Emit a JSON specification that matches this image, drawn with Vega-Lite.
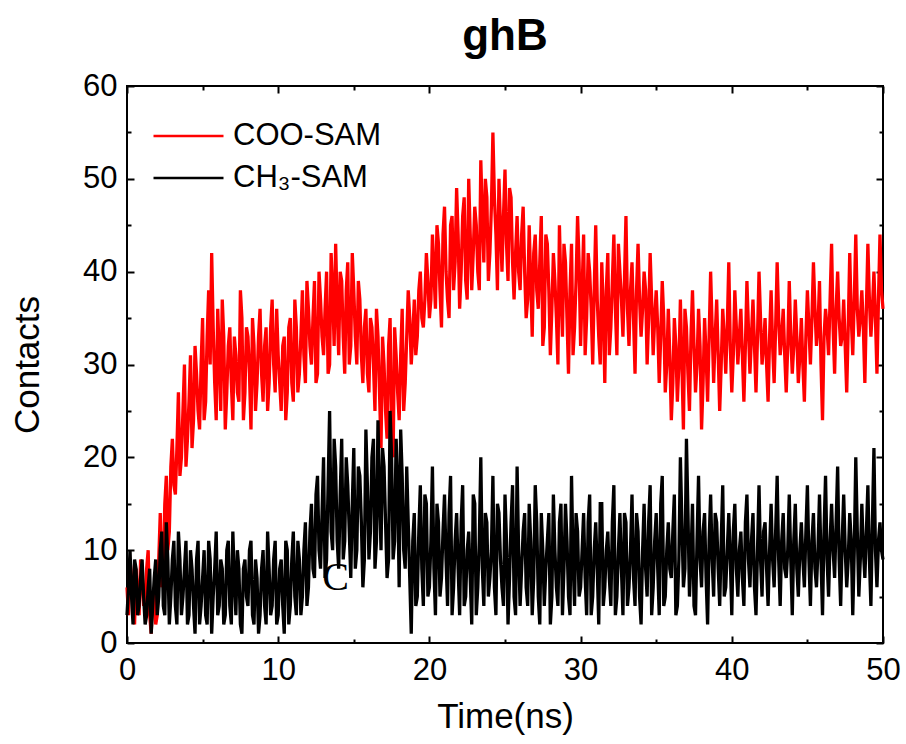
{
"$schema": "https://vega.github.io/schema/vega-lite/v6.json",
"width": 756, "height": 557,
"autosize": {"type": "none"},
"padding": {"left": 127, "top": 86, "right": 23, "bottom": 101},
"background": "white",
"title": {"text": "ghB", "fontSize": 44, "fontWeight": "bold", "font": "Liberation Sans", "color": "black", "offset": 11, "anchor": "middle"},
"config": {
  "view": {"stroke": "black", "strokeWidth": 2},
  "axis": {"domain": false, "grid": false, "labelFont": "Liberation Sans", "labelFontSize": 31, "labelColor": "black", "titleFont": "Liberation Sans", "titleFontSize": 35, "titleFontWeight": "normal", "titleColor": "black", "tickColor": "black", "tickWidth": 2, "labelFlush": false, "labelOverlap": false},
  "legend": {"labelFont": "Liberation Sans", "labelFontSize": 31, "labelColor": "black", "labelLimit": 0}
},
"resolve": {"axis": {"x": "independent", "y": "independent"}},
"datasets": {"d": [
{"t":0,"a":6,"b":3},{"t":0.2,"a":9,"b":10},{"t":0.4,"a":4,"b":2},{"t":0.6,"a":8,"b":8},{"t":0.8,"a":3,"b":4},
{"t":1,"a":7,"b":9},{"t":1.2,"a":5,"b":2},{"t":1.4,"a":10,"b":6},{"t":1.6,"a":1,"b":1},{"t":1.8,"a":6,"b":7},
{"t":2,"a":3,"b":3},{"t":2.2,"a":14,"b":10},{"t":2.4,"a":8,"b":4},{"t":2.6,"a":18,"b":13},{"t":2.8,"a":12,"b":2},
{"t":3,"a":22,"b":9},{"t":3.2,"a":16,"b":4},{"t":3.4,"a":27,"b":12},{"t":3.6,"a":20,"b":3},{"t":3.8,"a":30,"b":8},
{"t":4,"a":22,"b":2},{"t":4.2,"a":31,"b":10},{"t":4.4,"a":24,"b":4},{"t":4.6,"a":29,"b":9},{"t":4.8,"a":23,"b":2},
{"t":5,"a":35,"b":7},{"t":5.2,"a":26,"b":3},{"t":5.4,"a":38,"b":11},{"t":5.6,"a":42,"b":1},{"t":5.8,"a":28,"b":8},
{"t":6,"a":36,"b":3},{"t":6.2,"a":25,"b":9},{"t":6.4,"a":33,"b":2},{"t":6.6,"a":27,"b":10},{"t":6.8,"a":34,"b":4},
{"t":7,"a":24,"b":12},{"t":7.2,"a":31,"b":3},{"t":7.4,"a":26,"b":8},{"t":7.6,"a":35,"b":1},{"t":7.8,"a":27,"b":9},
{"t":8,"a":33,"b":4},{"t":8.2,"a":23,"b":11},{"t":8.4,"a":32,"b":2},{"t":8.6,"a":28,"b":7},{"t":8.8,"a":36,"b":3},
{"t":9,"a":26,"b":10},{"t":9.2,"a":34,"b":2},{"t":9.4,"a":28,"b":8},{"t":9.6,"a":37,"b":4},{"t":9.8,"a":27,"b":11},
{"t":10,"a":31,"b":3},{"t":10.2,"a":25,"b":9},{"t":10.4,"a":33,"b":1},{"t":10.6,"a":27,"b":10},{"t":10.8,"a":35,"b":4},
{"t":11,"a":26,"b":12},{"t":11.2,"a":34,"b":3},{"t":11.4,"a":29,"b":9},{"t":11.6,"a":38,"b":5},{"t":11.8,"a":28,"b":13},
{"t":12,"a":36,"b":6},{"t":12.2,"a":30,"b":15},{"t":12.4,"a":39,"b":7},{"t":12.6,"a":29,"b":18},{"t":12.8,"a":37,"b":8},
{"t":13,"a":31,"b":20},{"t":13.2,"a":40,"b":9},{"t":13.4,"a":30,"b":25},{"t":13.6,"a":38,"b":10},{"t":13.8,"a":43,"b":19},
{"t":14,"a":31,"b":8},{"t":14.2,"a":39,"b":22},{"t":14.4,"a":29,"b":11},{"t":14.6,"a":41,"b":17},{"t":14.8,"a":32,"b":7},
{"t":15,"a":38,"b":21},{"t":15.2,"a":30,"b":10},{"t":15.4,"a":37,"b":18},{"t":15.6,"a":28,"b":6},{"t":15.8,"a":36,"b":23},
{"t":16,"a":27,"b":9},{"t":16.2,"a":34,"b":20},{"t":16.4,"a":25,"b":8},{"t":16.6,"a":33,"b":24},{"t":16.8,"a":21,"b":10},
{"t":17,"a":30,"b":19},{"t":17.2,"a":22,"b":7},{"t":17.4,"a":35,"b":25},{"t":17.6,"a":20,"b":9},{"t":17.8,"a":31,"b":22},
{"t":18,"a":24,"b":6},{"t":18.2,"a":36,"b":18},{"t":18.4,"a":28,"b":8},{"t":18.6,"a":38,"b":13},{"t":18.8,"a":30,"b":1},
{"t":19,"a":37,"b":14},{"t":19.2,"a":33,"b":5},{"t":19.4,"a":40,"b":17},{"t":19.6,"a":34,"b":4},{"t":19.8,"a":42,"b":15},
{"t":20,"a":35,"b":6},{"t":20.2,"a":44,"b":19},{"t":20.4,"a":36,"b":3},{"t":20.6,"a":43,"b":13},{"t":20.8,"a":34,"b":7},
{"t":21,"a":47,"b":16},{"t":21.2,"a":37,"b":4},{"t":21.4,"a":45,"b":18},{"t":21.6,"a":38,"b":6},{"t":21.8,"a":49,"b":14},
{"t":22,"a":36,"b":3},{"t":22.2,"a":46,"b":17},{"t":22.4,"a":39,"b":5},{"t":22.6,"a":50,"b":12},{"t":22.8,"a":38,"b":2},
{"t":23,"a":47,"b":15},{"t":23.2,"a":40,"b":6},{"t":23.4,"a":52,"b":20},{"t":23.6,"a":41,"b":4},{"t":23.8,"a":48,"b":13},
{"t":24,"a":42,"b":7},{"t":24.2,"a":55,"b":18},{"t":24.4,"a":44,"b":3},{"t":24.6,"a":50,"b":14},{"t":24.8,"a":40,"b":6},
{"t":25,"a":51,"b":16},{"t":25.2,"a":39,"b":2},{"t":25.4,"a":48,"b":13},{"t":25.6,"a":37,"b":5},{"t":25.8,"a":46,"b":19},
{"t":26,"a":38,"b":4},{"t":26.2,"a":47,"b":12},{"t":26.4,"a":35,"b":6},{"t":26.6,"a":45,"b":15},{"t":26.8,"a":33,"b":3},
{"t":27,"a":44,"b":17},{"t":27.2,"a":36,"b":5},{"t":27.4,"a":46,"b":14},{"t":27.6,"a":34,"b":4},{"t":27.8,"a":43,"b":11},
{"t":28,"a":31,"b":2},{"t":28.2,"a":42,"b":16},{"t":28.4,"a":35,"b":6},{"t":28.6,"a":45,"b":13},{"t":28.8,"a":33,"b":3},
{"t":29,"a":41,"b":15},{"t":29.2,"a":29,"b":5},{"t":29.4,"a":43,"b":18},{"t":29.6,"a":34,"b":4},{"t":29.8,"a":46,"b":12},
{"t":30,"a":32,"b":6},{"t":30.2,"a":44,"b":14},{"t":30.4,"a":35,"b":3},{"t":30.6,"a":40,"b":16},{"t":30.8,"a":30,"b":5},
{"t":31,"a":45,"b":13},{"t":31.2,"a":33,"b":2},{"t":31.4,"a":41,"b":15},{"t":31.6,"a":28,"b":6},{"t":31.8,"a":42,"b":12},
{"t":32,"a":34,"b":4},{"t":32.2,"a":44,"b":17},{"t":32.4,"a":31,"b":5},{"t":32.6,"a":40,"b":14},{"t":32.8,"a":33,"b":3},
{"t":33,"a":46,"b":13},{"t":33.2,"a":32,"b":6},{"t":33.4,"a":41,"b":16},{"t":33.6,"a":29,"b":4},{"t":33.8,"a":43,"b":12},
{"t":34,"a":33,"b":2},{"t":34.2,"a":40,"b":15},{"t":34.4,"a":30,"b":5},{"t":34.6,"a":42,"b":17},{"t":34.8,"a":31,"b":6},
{"t":35,"a":38,"b":14},{"t":35.2,"a":28,"b":3},{"t":35.4,"a":39,"b":18},{"t":35.6,"a":27,"b":5},{"t":35.8,"a":36,"b":13},
{"t":36,"a":24,"b":7},{"t":36.2,"a":35,"b":16},{"t":36.4,"a":26,"b":4},{"t":36.6,"a":37,"b":20},{"t":36.8,"a":23,"b":6},
{"t":37,"a":34,"b":22},{"t":37.2,"a":25,"b":5},{"t":37.4,"a":38,"b":15},{"t":37.6,"a":27,"b":3},{"t":37.8,"a":36,"b":18},
{"t":38,"a":23,"b":6},{"t":38.2,"a":35,"b":14},{"t":38.4,"a":26,"b":2},{"t":38.6,"a":40,"b":16},{"t":38.8,"a":28,"b":5},
{"t":39,"a":37,"b":13},{"t":39.2,"a":25,"b":4},{"t":39.4,"a":36,"b":17},{"t":39.6,"a":29,"b":6},{"t":39.8,"a":41,"b":14},
{"t":40,"a":27,"b":3},{"t":40.2,"a":38,"b":15},{"t":40.4,"a":30,"b":5},{"t":40.6,"a":36,"b":12},{"t":40.8,"a":26,"b":4},
{"t":41,"a":39,"b":16},{"t":41.2,"a":29,"b":6},{"t":41.4,"a":37,"b":14},{"t":41.6,"a":27,"b":3},{"t":41.8,"a":40,"b":17},
{"t":42,"a":30,"b":5},{"t":42.2,"a":35,"b":13},{"t":42.4,"a":26,"b":4},{"t":42.6,"a":38,"b":15},{"t":42.8,"a":28,"b":6},
{"t":43,"a":41,"b":18},{"t":43.2,"a":31,"b":4},{"t":43.4,"a":36,"b":14},{"t":43.6,"a":27,"b":7},{"t":43.8,"a":39,"b":16},
{"t":44,"a":29,"b":3},{"t":44.2,"a":37,"b":15},{"t":44.4,"a":28,"b":5},{"t":44.6,"a":35,"b":13},{"t":44.8,"a":26,"b":6},
{"t":45,"a":38,"b":17},{"t":45.2,"a":30,"b":4},{"t":45.4,"a":41,"b":14},{"t":45.6,"a":32,"b":6},{"t":45.8,"a":39,"b":16},
{"t":46,"a":24,"b":3},{"t":46.2,"a":36,"b":18},{"t":46.4,"a":31,"b":5},{"t":46.6,"a":43,"b":15},{"t":46.8,"a":29,"b":7},
{"t":47,"a":40,"b":19},{"t":47.2,"a":32,"b":4},{"t":47.4,"a":37,"b":16},{"t":47.6,"a":27,"b":6},{"t":47.8,"a":42,"b":14},
{"t":48,"a":31,"b":3},{"t":48.2,"a":44,"b":20},{"t":48.4,"a":33,"b":5},{"t":48.6,"a":38,"b":15},{"t":48.8,"a":28,"b":7},
{"t":49,"a":43,"b":17},{"t":49.2,"a":33,"b":4},{"t":49.4,"a":40,"b":21},{"t":49.6,"a":29,"b":6},{"t":49.8,"a":44,"b":13},
{"t":50,"a":36,"b":9},
{"t":0.1,"a":3,"b":6},{"t":0.3,"a":7,"b":5},{"t":0.5,"a":2,"b":9},{"t":0.7,"a":5,"b":3},{"t":0.9,"a":9,"b":7},
{"t":1.1,"a":4,"b":5},{"t":1.3,"a":8,"b":3},{"t":1.5,"a":3,"b":8},{"t":1.7,"a":5,"b":4},{"t":1.9,"a":2,"b":9},
{"t":2.1,"a":9,"b":5},{"t":2.3,"a":6,"b":12},{"t":2.5,"a":15,"b":3},{"t":2.7,"a":10,"b":9},{"t":2.9,"a":19,"b":5},
{"t":3.1,"a":17,"b":11},{"t":3.3,"a":21,"b":2},{"t":3.5,"a":18,"b":9},{"t":3.7,"a":25,"b":5},{"t":3.9,"a":19,"b":11},
{"t":4.1,"a":26,"b":3},{"t":4.3,"a":21,"b":8},{"t":4.5,"a":32,"b":1},{"t":4.7,"a":25,"b":11},{"t":4.9,"a":30,"b":4},
{"t":5.1,"a":24,"b":10},{"t":5.3,"a":33,"b":2},{"t":5.5,"a":30,"b":9},{"t":5.7,"a":34,"b":5},{"t":5.9,"a":24,"b":12},
{"t":6.1,"a":31,"b":4},{"t":6.3,"a":37,"b":8},{"t":6.5,"a":23,"b":3},{"t":6.7,"a":32,"b":11},{"t":6.9,"a":28,"b":2},
{"t":7.1,"a":33,"b":7},{"t":7.3,"a":27,"b":10},{"t":7.5,"a":38,"b":2},{"t":7.7,"a":24,"b":8},{"t":7.9,"a":34,"b":5},
{"t":8.1,"a":29,"b":10},{"t":8.3,"a":35,"b":3},{"t":8.5,"a":25,"b":9},{"t":8.7,"a":33,"b":1},{"t":8.9,"a":29,"b":8},
{"t":9.1,"a":32,"b":4},{"t":9.3,"a":25,"b":12},{"t":9.5,"a":34,"b":3},{"t":9.7,"a":30,"b":9},{"t":9.9,"a":36,"b":2},
{"t":10.1,"a":28,"b":8},{"t":10.3,"a":32,"b":4},{"t":10.5,"a":24,"b":11},{"t":10.7,"a":34,"b":2},{"t":10.9,"a":28,"b":9},
{"t":11.1,"a":37,"b":5},{"t":11.3,"a":27,"b":11},{"t":11.5,"a":33,"b":3},{"t":11.7,"a":31,"b":10},{"t":11.9,"a":39,"b":4},
{"t":12.1,"a":32,"b":12},{"t":12.3,"a":35,"b":8},{"t":12.5,"a":28,"b":16},{"t":12.7,"a":40,"b":10},{"t":12.9,"a":33,"b":14},
{"t":13.1,"a":36,"b":7},{"t":13.3,"a":29,"b":17},{"t":13.5,"a":42,"b":12},{"t":13.7,"a":32,"b":22},{"t":13.9,"a":36,"b":11},
{"t":14.1,"a":40,"b":16},{"t":14.3,"a":33,"b":9},{"t":14.5,"a":38,"b":20},{"t":14.7,"a":30,"b":12},{"t":14.9,"a":42,"b":15},
{"t":15.1,"a":33,"b":8},{"t":15.3,"a":39,"b":19},{"t":15.5,"a":31,"b":13},{"t":15.7,"a":34,"b":9},{"t":15.9,"a":29,"b":17},
{"t":16.1,"a":35,"b":12},{"t":16.3,"a":30,"b":22},{"t":16.5,"a":36,"b":11},{"t":16.7,"a":27,"b":16},{"t":16.9,"a":33,"b":21},
{"t":17.1,"a":25,"b":13},{"t":17.3,"a":32,"b":9},{"t":17.5,"a":23,"b":20},{"t":17.7,"a":34,"b":11},{"t":17.9,"a":27,"b":17},
{"t":18.1,"a":31,"b":23},{"t":18.3,"a":25,"b":10},{"t":18.5,"a":33,"b":19},{"t":18.7,"a":35,"b":7},{"t":18.9,"a":33,"b":11},
{"t":19.1,"a":31,"b":4},{"t":19.3,"a":38,"b":12},{"t":19.5,"a":35,"b":8},{"t":19.7,"a":37,"b":16},{"t":19.9,"a":39,"b":5},
{"t":20.1,"a":37,"b":11},{"t":20.3,"a":40,"b":8},{"t":20.5,"a":45,"b":15},{"t":20.7,"a":38,"b":5},{"t":20.9,"a":44,"b":12},
{"t":21.1,"a":40,"b":9},{"t":21.3,"a":35,"b":14},{"t":21.5,"a":46,"b":3},{"t":21.7,"a":41,"b":11},{"t":21.9,"a":44,"b":8},
{"t":22.1,"a":40,"b":13},{"t":22.3,"a":48,"b":4},{"t":22.5,"a":37,"b":10},{"t":22.7,"a":44,"b":7},{"t":22.9,"a":42,"b":16},
{"t":23.1,"a":45,"b":3},{"t":23.3,"a":38,"b":11},{"t":23.5,"a":46,"b":8},{"t":23.7,"a":50,"b":14},{"t":23.9,"a":39,"b":5},
{"t":24.1,"a":47,"b":10},{"t":24.3,"a":48,"b":6},{"t":24.5,"a":38,"b":15},{"t":24.7,"a":45,"b":9},{"t":24.9,"a":46,"b":4},
{"t":25.1,"a":43,"b":11},{"t":25.3,"a":49,"b":7},{"t":25.5,"a":41,"b":17},{"t":25.7,"a":42,"b":3},{"t":25.9,"a":40,"b":10},
{"t":26.1,"a":44,"b":8},{"t":26.3,"a":40,"b":14},{"t":26.5,"a":37,"b":4},{"t":26.7,"a":39,"b":11},{"t":26.9,"a":42,"b":7},
{"t":27.1,"a":38,"b":13},{"t":27.3,"a":41,"b":2},{"t":27.5,"a":32,"b":10},{"t":27.7,"a":44,"b":8},{"t":27.9,"a":38,"b":14},
{"t":28.1,"a":36,"b":5},{"t":28.3,"a":39,"b":10},{"t":28.5,"a":30,"b":4},{"t":28.7,"a":38,"b":15},{"t":28.9,"a":43,"b":8},
{"t":29.1,"a":35,"b":11},{"t":29.3,"a":38,"b":3},{"t":29.5,"a":31,"b":9},{"t":29.7,"a":39,"b":14},{"t":29.9,"a":41,"b":5},
{"t":30.1,"a":38,"b":10},{"t":30.3,"a":31,"b":7},{"t":30.5,"a":42,"b":13},{"t":30.7,"a":36,"b":3},{"t":30.9,"a":38,"b":10},
{"t":31.1,"a":37,"b":8},{"t":31.3,"a":30,"b":15},{"t":31.5,"a":36,"b":4},{"t":31.7,"a":38,"b":10},{"t":31.9,"a":31,"b":7},
{"t":32.1,"a":39,"b":13},{"t":32.3,"a":36,"b":3},{"t":32.5,"a":43,"b":10},{"t":32.7,"a":37,"b":8},{"t":32.9,"a":39,"b":14},
{"t":33.1,"a":36,"b":4},{"t":33.3,"a":38,"b":10},{"t":33.5,"a":35,"b":7},{"t":33.7,"a":38,"b":14},{"t":33.9,"a":37,"b":5},
{"t":34.1,"a":36,"b":10},{"t":34.3,"a":38,"b":8},{"t":34.5,"a":35,"b":13},{"t":34.7,"a":37,"b":3},{"t":34.9,"a":35,"b":11},
{"t":35.1,"a":34,"b":8},{"t":35.3,"a":33,"b":15},{"t":35.5,"a":35,"b":4},{"t":35.7,"a":30,"b":10},{"t":35.9,"a":31,"b":8},
{"t":36.1,"a":28,"b":12},{"t":36.3,"a":32,"b":3},{"t":36.5,"a":30,"b":9},{"t":36.7,"a":30,"b":13},{"t":36.9,"a":36,"b":8},
{"t":37.1,"a":29,"b":14},{"t":37.3,"a":33,"b":9},{"t":37.5,"a":32,"b":4},{"t":37.7,"a":30,"b":11},{"t":37.9,"a":32,"b":9},
{"t":38.1,"a":28,"b":12},{"t":38.3,"a":31,"b":7},{"t":38.5,"a":33,"b":11},{"t":38.7,"a":34,"b":9},{"t":38.9,"a":33,"b":14},
{"t":39.1,"a":31,"b":8},{"t":39.3,"a":30,"b":11},{"t":39.5,"a":33,"b":5},{"t":39.7,"a":34,"b":10},{"t":39.9,"a":32,"b":9},
{"t":40.1,"a":31,"b":12},{"t":40.3,"a":34,"b":8},{"t":40.5,"a":33,"b":10},{"t":40.7,"a":31,"b":7},{"t":40.9,"a":32,"b":13},
{"t":41.1,"a":34,"b":9},{"t":41.3,"a":33,"b":11},{"t":41.5,"a":32,"b":6},{"t":41.7,"a":33,"b":10},{"t":41.9,"a":35,"b":9},
{"t":42.1,"a":32,"b":12},{"t":42.3,"a":30,"b":8},{"t":42.5,"a":33,"b":10},{"t":42.7,"a":32,"b":9},{"t":42.9,"a":34,"b":12},
{"t":43.1,"a":35,"b":9},{"t":43.3,"a":33,"b":11},{"t":43.5,"a":31,"b":8},{"t":43.7,"a":32,"b":10},{"t":43.9,"a":33,"b":9},
{"t":44.1,"a":32,"b":11},{"t":44.3,"a":33,"b":8},{"t":44.5,"a":31,"b":10},{"t":44.7,"a":30,"b":9},{"t":44.9,"a":33,"b":12},
{"t":45.1,"a":34,"b":9},{"t":45.3,"a":35,"b":11},{"t":45.5,"a":36,"b":8},{"t":45.7,"a":34,"b":10},{"t":45.9,"a":30,"b":9},
{"t":46.1,"a":33,"b":12},{"t":46.3,"a":34,"b":9},{"t":46.5,"a":37,"b":11},{"t":46.7,"a":34,"b":10},{"t":46.9,"a":36,"b":13},
{"t":47.1,"a":35,"b":9},{"t":47.3,"a":33,"b":11},{"t":47.5,"a":32,"b":10},{"t":47.7,"a":34,"b":9},{"t":47.9,"a":35,"b":11},
{"t":48.1,"a":37,"b":10},{"t":48.3,"a":36,"b":12},{"t":48.5,"a":35,"b":9},{"t":48.7,"a":34,"b":10},{"t":48.9,"a":36,"b":12},
{"t":49.1,"a":37,"b":9},{"t":49.3,"a":36,"b":13},{"t":49.5,"a":35,"b":10},{"t":49.7,"a":37,"b":11},{"t":49.9,"a":38,"b":10}
]},
"data": {"name": "d"},
"layer": [
  {
    "mark": {"type": "line", "strokeWidth": 3.3, "strokeJoin": "miter", "strokeMiterLimit": 2},
    "encoding": {
      "x": {"field": "t", "type": "quantitative", "scale": {"domain": [0, 50], "nice": false, "zero": false},
            "axis": {"orient": "bottom", "values": [0, 10, 20, 30, 40, 50], "tickSize": -7, "labelPadding": 19, "title": "Time(ns)", "titlePadding": 14}},
      "y": {"field": "a", "type": "quantitative", "scale": {"domain": [0, 60], "nice": false},
            "axis": {"orient": "left", "values": [0, 10, 20, 30, 40, 50, 60], "tickSize": -7, "labelPadding": 17, "title": "Contacts", "titlePadding": 37}},
      "color": {"datum": "COO-SAM", "type": "nominal",
                "scale": {"domain": ["COO-SAM", "CH₃-SAM"], "range": ["#ff0000", "#000000"]},
                "legend": {"orient": "none", "legendX": 25, "legendY": 30, "title": null, "symbolType": "stroke", "symbolSize": 4900, "symbolStrokeWidth": 2.5, "labelOffset": 8, "padding": 0, "rowPadding": 2, "clipHeight": 40}}
    }
  },
  {
    "mark": {"type": "line", "strokeWidth": 3.3, "strokeJoin": "miter", "strokeMiterLimit": 2},
    "encoding": {
      "x": {"field": "t", "type": "quantitative", "scale": {"domain": [0, 50], "nice": false, "zero": false},
            "axis": {"orient": "bottom", "values": [5, 15, 25, 35, 45], "tickSize": -4, "labels": false, "title": null}},
      "y": {"field": "b", "type": "quantitative", "scale": {"domain": [0, 60], "nice": false},
            "axis": {"orient": "left", "values": [5, 15, 25, 35, 45, 55], "tickSize": -4, "labels": false, "title": null}},
      "color": {"datum": "CH₃-SAM", "type": "nominal"}
    }
  },
  {
    "mark": {"type": "point", "opacity": 0},
    "encoding": {
      "x": {"field": "t", "type": "quantitative", "axis": {"orient": "top", "values": [0, 10, 20, 30, 40, 50], "tickSize": -7, "labels": false, "title": null}},
      "y": {"field": "a", "type": "quantitative", "axis": {"orient": "right", "values": [0, 10, 20, 30, 40, 50, 60], "tickSize": -7, "labels": false, "title": null}}
    }
  },
  {
    "mark": {"type": "point", "opacity": 0},
    "encoding": {
      "x": {"field": "t", "type": "quantitative", "axis": {"orient": "top", "values": [5, 15, 25, 35, 45], "tickSize": -4, "labels": false, "title": null}},
      "y": {"field": "b", "type": "quantitative", "axis": {"orient": "right", "values": [5, 15, 25, 35, 45, 55], "tickSize": -4, "labels": false, "title": null}}
    }
  },
  {
    "data": {"values": [{}]},
    "mark": {"type": "text", "text": "C", "font": "Liberation Serif", "fontSize": 40, "color": "black", "align": "center", "baseline": "middle"},
    "encoding": {
      "x": {"datum": 13.8, "type": "quantitative", "axis": null},
      "y": {"datum": 7, "type": "quantitative", "axis": null}
    }
  }
]
}
